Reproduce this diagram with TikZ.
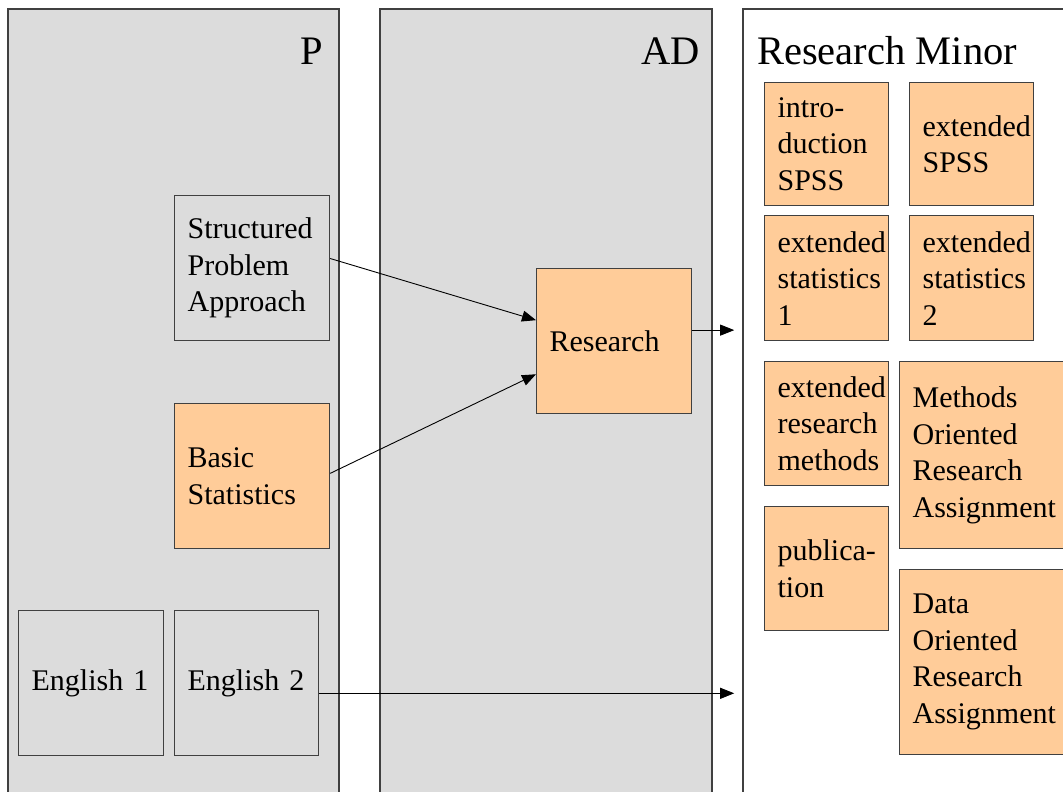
\documentclass[tikz,border=0pt]{standalone}
\usepackage{fontspec}
\setmainfont{Liberation Serif}
\usetikzlibrary{arrows.meta}
\definecolor{colgray}{HTML}{DCDCDC}
\definecolor{boxorange}{HTML}{FFCC99}
\definecolor{bordc}{HTML}{404040}
\newcommand{\boxfont}{\fontsize{30}{36.5}\selectfont}
\newcommand{\titlefont}{\fontsize{40.5}{48}\selectfont}
\begin{document}
\begin{tikzpicture}[x=1pt,y=-1pt,
  column/.style={draw=bordc, line width=1.2pt},
  box/.style={draw=bordc, line width=1.2pt, anchor=north west, inner xsep=13pt, inner ysep=0pt, align=left, font=\boxfont},
  graybox/.style={box, fill=colgray},
  orangebox/.style={box, fill=boxorange},
  conn/.style={draw=black, line width=0.9pt, -{Triangle[length=14pt,width=11pt]}},
  coltitle/.style={font=\titlefont, inner sep=0pt}
]
\useasboundingbox (0,0) rectangle (1063,792);
% columns
\draw[column, fill=colgray] (8,9) rectangle (339,810);
\draw[column, fill=colgray] (380,9) rectangle (712,810);
\draw[column, fill=white] (743,9) rectangle (1090,810);
\node[coltitle, anchor=base east] (tP) at (323,65) {P};
\node[coltitle, anchor=base east] (tAD) at (700,65) {AD};
\node[coltitle, anchor=base west] (tRM) at (757,65) {Research Minor};
% P boxes
\node[graybox, text width=129pt, minimum height=145pt] (spa) at (174,195) {Structured\\Problem\\Approach};
\node[orangebox, text width=129pt, minimum height=145pt] (basic) at (174,403) {Basic\\Statistics};
\node[graybox, text width=119pt, minimum height=145pt] (eng1) at (18,610) {English 1};
\node[graybox, text width=118pt, minimum height=145pt] (eng2) at (174,610) {English 2};
% AD
\node[orangebox, text width=129pt, minimum height=145pt] (research) at (536,268) {Research};
% Research Minor
\node[orangebox, text width=98pt, minimum height=123pt] (intro) at (764,82) {\mbox{intro-}\\duction\\SPSS};
\node[orangebox, text width=98pt, minimum height=123pt] (extspss) at (909,82) {extended\\SPSS};
\node[orangebox, text width=98pt, minimum height=125pt] (exts1) at (764,215) {extended\\statistics\\1};
\node[orangebox, text width=98pt, minimum height=125pt] (exts2) at (909,215) {extended\\statistics\\2};
\node[orangebox, text width=98pt, minimum height=124pt] (extrm) at (764,361) {extended\\research\\methods};
\node[orangebox, text width=155pt, minimum height=187pt] (methods) at (899,361) {Methods\\Oriented\\Research\\Assignment};
\node[orangebox, text width=98pt, minimum height=124pt] (pub) at (764,506) {\mbox{publica-}\\tion};
\node[orangebox, text width=155pt, minimum height=185pt] (data) at (899,569) {Data\\Oriented\\Research\\Assignment};
% connectors
\path (research.8) ++(42,0) coordinate (rmin1);
\path (eng2.-8) ++(415,0) coordinate (rmin2);
\draw[conn] (spa.7) -- (research.165);
\draw[conn] (basic.2) -- (research.203);
\draw[conn] (research.8) -- (rmin1);
\draw[conn] (eng2.-8) -- (rmin2);
\end{tikzpicture}
\end{document}
